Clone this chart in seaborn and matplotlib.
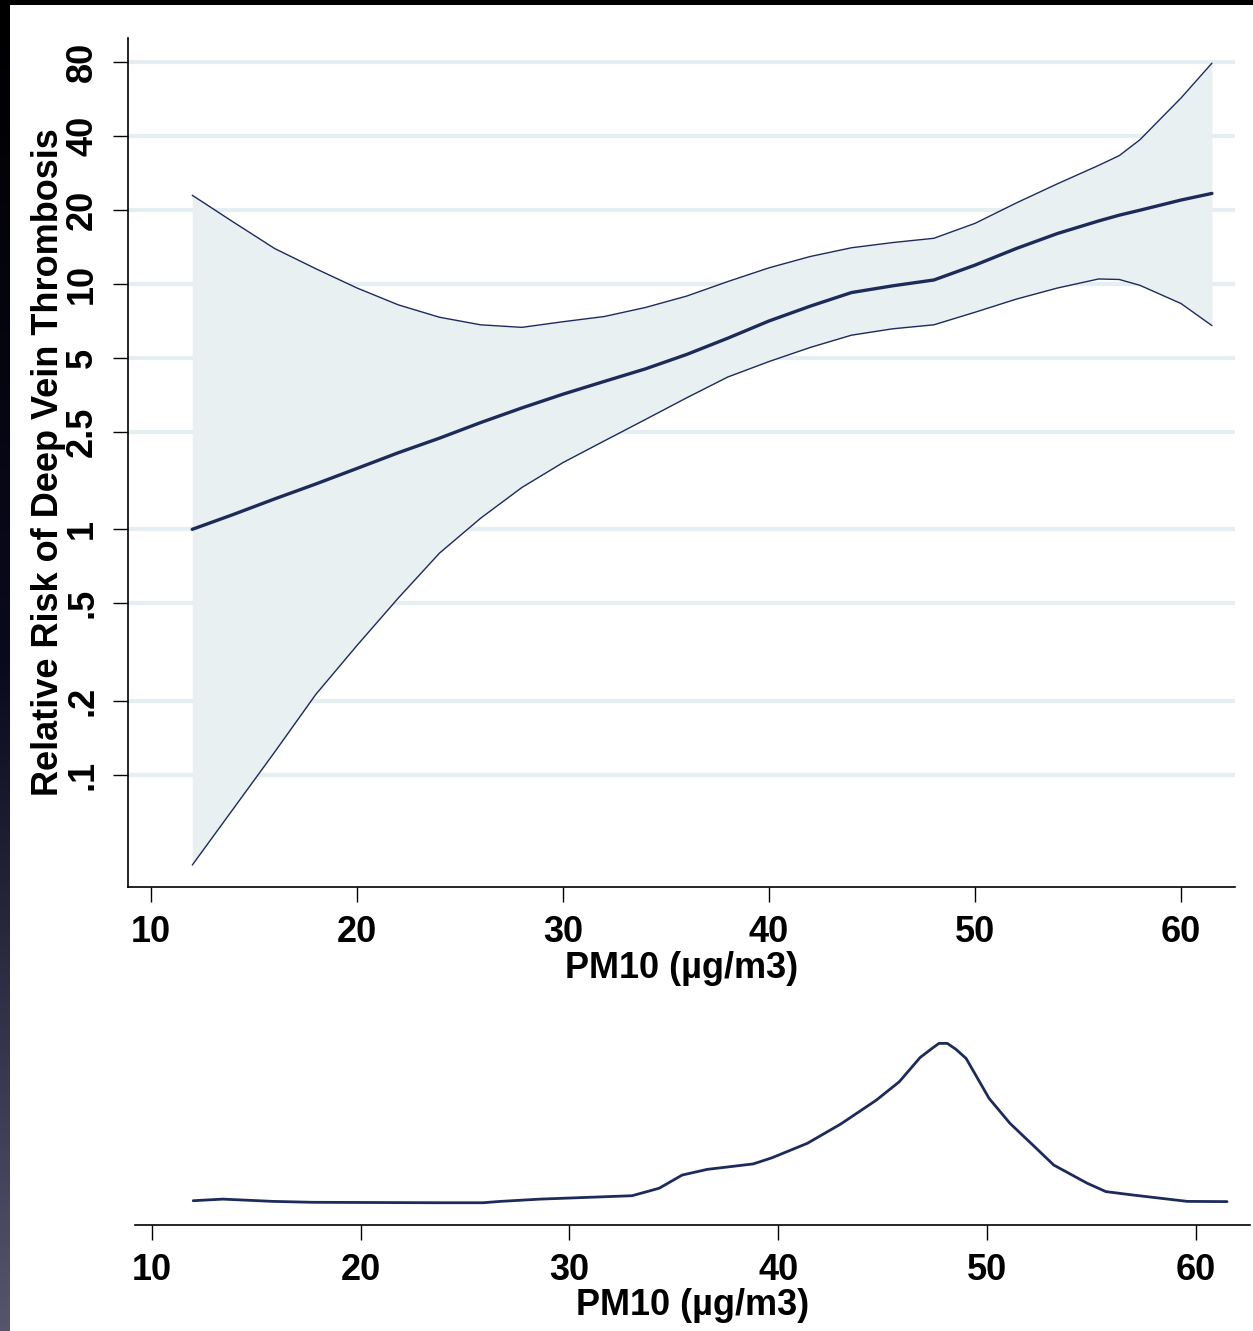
import numpy as np
import matplotlib
matplotlib.use("Agg")
import matplotlib.pyplot as plt
import seaborn as sns
from matplotlib.colors import LinearSegmentedColormap

# ---------------- data ----------------
pm10 = [12, 14, 16, 18, 20, 22, 24, 26, 28, 30, 32, 34, 36, 38, 40, 42, 44,
        46, 48, 50, 52, 54, 56, 57, 58, 60, 61.5]
rr = [1.00, 1.15, 1.33, 1.53, 1.77, 2.05, 2.35, 2.72, 3.12, 3.55, 4.0, 4.5,
      5.15, 6.0, 7.05, 8.1, 9.2, 9.8, 10.35, 11.9, 13.9, 16.0, 18.0, 19.0,
      19.9, 21.9, 23.3]
rr_lower = [0.043, 0.073, 0.124, 0.213, 0.337, 0.525, 0.80, 1.11, 1.48, 1.87,
            2.29, 2.80, 3.43, 4.17, 4.82, 5.5, 6.17, 6.55, 6.8, 7.65, 8.65,
            9.6, 10.45, 10.4, 9.85, 8.3, 6.75]
rr_upper = [22.9, 17.8, 13.9, 11.5, 9.6, 8.2, 7.3, 6.8, 6.64, 7.0, 7.35, 8.0,
            8.9, 10.2, 11.6, 12.9, 14.0, 14.7, 15.3, 17.6, 21.3, 25.5, 30.3,
            33.2, 38.5, 57.0, 79.0]

dens_x = [11.98, 13.4, 15.8, 17.7, 23.8, 25.85, 26.7, 28.6, 33.0, 34.3, 35.4,
          36.6, 38.8, 39.7, 41.4, 43.0, 44.7, 45.8, 46.8, 47.4, 47.7, 48.1,
          48.5, 49.0, 50.1, 51.1, 52.2, 53.2, 54.8, 55.7, 57.0, 59.6, 61.5]
dens_y = [0.0107, 0.0114, 0.0104, 0.0100, 0.0098, 0.0098, 0.0104, 0.0114,
          0.0129, 0.0162, 0.0220, 0.0245, 0.0269, 0.0296, 0.0360, 0.0445,
          0.0550, 0.0631, 0.0738, 0.0780, 0.0800, 0.0800, 0.0775, 0.0734,
          0.0558, 0.0448, 0.0352, 0.0264, 0.0184, 0.0147, 0.0132, 0.0104,
          0.0103]

x_ticks = [10, 20, 30, 40, 50, 60]
y_ticks = [0.1, 0.2, 0.5, 1, 2.5, 5, 10, 20, 40, 80]
y_tick_labels = [".1", ".2", ".5", "1", "2.5", "5", "10", "20", "40", "80"]
x_label = "PM10 (µg/m3)"
y_label = "Relative Risk of Deep Vein Thrombosis"

# ---------------- style ----------------
sns.set_theme(style="white")
plt.rcParams["font.family"] = ["Liberation Sans", "DejaVu Sans"]
plt.rcParams["font.weight"] = "bold"
plt.rcParams["text.color"] = "black"
plt.rcParams["xtick.color"] = "black"
plt.rcParams["ytick.color"] = "black"
plt.rcParams["axes.labelcolor"] = "black"

NAVY = "#1d2b5b"
FILL = "#e8f0f2"
GRID = "#e5eef0"
FS = 26

W, H = 1253, 1331
fig = plt.figure(figsize=(W / 100, H / 100), dpi=100)
fig.patch.set_facecolor("white")

def frac(left, top, right, bottom):
    return [left / W, 1 - bottom / H, (right - left) / W, (bottom - top) / H]

# ---------------- top panel ----------------
ax = fig.add_axes(frac(128, 38, 1235, 887))
ax.set_facecolor("white")
ax.set_yscale("log")
for t in y_ticks:
    ax.axhline(t, color=GRID, lw=3, zorder=0)
ax.fill_between(pm10, rr_lower, rr_upper, color=FILL, lw=0, zorder=1)
sns.lineplot(x=pm10, y=rr_lower, ax=ax, color=NAVY, lw=1.0, zorder=3)
sns.lineplot(x=pm10, y=rr_upper, ax=ax, color=NAVY, lw=1.0, zorder=3)
sns.lineplot(x=pm10, y=rr, ax=ax, color=NAVY, lw=2.4, zorder=4)
ax.set_xlim(8.88, 62.62)
ax.set_ylim(0.035, 100)
ax.set_xticks(x_ticks)
ax.set_xticklabels([str(v) for v in x_ticks], fontsize=FS, fontweight="bold",
                   color="black")
ax.set_yticks(y_ticks)
ax.set_yticklabels(y_tick_labels, fontsize=FS, fontweight="bold",
                   rotation=90, va="center", ha="right", color="black")
ax.yaxis.set_minor_locator(matplotlib.ticker.NullLocator())
ax.tick_params(axis="both", which="major", length=11, width=1.0,
               color="black", pad=9, left=True, bottom=True)
for s in ["top", "right"]:
    ax.spines[s].set_visible(False)
for s in ["left", "bottom"]:
    ax.spines[s].set_color("black")
    ax.spines[s].set_linewidth(1.2)
ax.set_xlabel(x_label, fontsize=FS, fontweight="bold", labelpad=1,
              color="black")
ax.set_ylabel(y_label, fontsize=FS, fontweight="bold", color="black")
ax.yaxis.set_label_coords((66 - 128) / 1107, 0.5)
ax.grid(False)

# ---------------- bottom panel (density) ----------------
ax2 = fig.add_axes(frac(135, 1030, 1250, 1225))
ax2.set_facecolor("white")
sns.lineplot(x=dens_x, y=dens_y, ax=ax2, color=NAVY, lw=2.0)
ax2.set_xlim(9.19, 62.6)
ax2.set_ylim(0, 0.0859)
ax2.set_xticks(x_ticks)
ax2.set_xticklabels([str(v) for v in x_ticks], fontsize=FS, fontweight="bold",
                    color="black")
ax2.set_yticks([])
ax2.tick_params(axis="x", length=11, width=1.0, color="black", pad=9,
                bottom=True)
for s in ["top", "right", "left"]:
    ax2.spines[s].set_visible(False)
ax2.spines["bottom"].set_color("black")
ax2.spines["bottom"].set_linewidth(1.2)
ax2.set_xlabel(x_label, fontsize=FS, fontweight="bold", labelpad=0,
               color="black")
ax2.set_ylabel("")
ax2.grid(False)

# ---------------- dark frame (decoration) ----------------
cmap = LinearSegmentedColormap.from_list("edge", ["#000000", "#0a0a1e", "#55556c"])
bg = fig.add_axes([0, 0, 10 / W, 1])
bg.imshow(np.linspace(0, 1, 256).reshape(-1, 1), aspect="auto", cmap=cmap,
          extent=[0, 1, 1, 0])
bg.set_axis_off()
top = fig.add_axes([0, 1 - 5 / H, 1, 5 / H])
top.set_facecolor("black")
top.set_xticks([]); top.set_yticks([])
for s in top.spines.values():
    s.set_visible(False)

fig.savefig("out.png", dpi=100, facecolor="white")
